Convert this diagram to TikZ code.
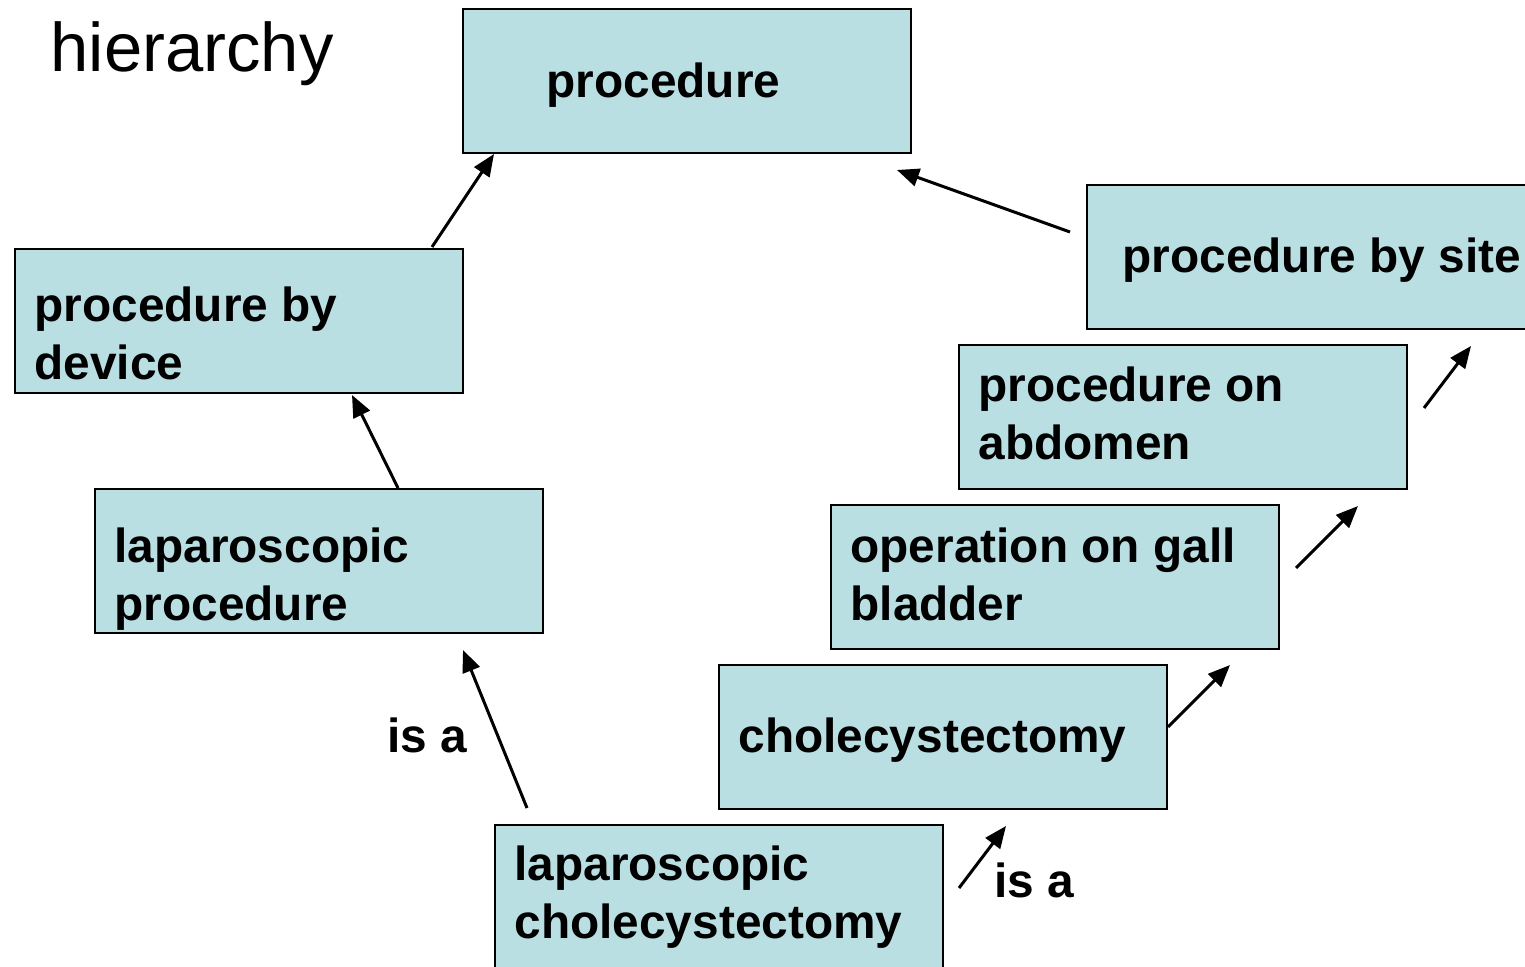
\documentclass[tikz,border=0pt]{standalone}
\usepackage{fontspec}
\setmainfont{Liberation Sans}
\usetikzlibrary{arrows.meta}
\definecolor{boxfill}{RGB}{186,223,227}
\begin{document}
\begin{tikzpicture}[x=0.5pt, y=-0.5pt, >={Triangle[length=11pt,width=9pt]}, line width=1.5pt]
            \tikzstyle{concept} = [rectangle, draw=black, fill=boxfill, line width=1.2pt, anchor=north west,
                                   minimum width=224pt, minimum height=72pt, inner sep=0pt, outer sep=0pt]
            \tikzstyle{word} = [anchor=base west, inner sep=0pt, align=left,
                                font=\fontsize{23.9}{29}\selectfont\bfseries]

            \clip (0, 0) rectangle (1525, 967);

            \node[anchor=base west, inner sep=0pt, font=\fontsize{34.4}{40}\selectfont] (title) at (49, 72) {hierarchy};

            \node[concept] (proc) at (463, 9) {};
            \node[concept] (dev) at (15, 249) {};
            \node[concept] (lap) at (95, 489) {};
            \node[concept] (lapchol) at (495, 825) {};
            \node[concept] (chol) at (719, 665) {};
            \node[concept] (gall) at (831, 505) {};
            \node[concept] (abd) at (959, 345) {};
            \node[concept] (site) at (1087, 185) {};

            \node[word] (proct) at (545, 98) {procedure};
            \node[word] (devt) at (33, 380) {procedure by\\device};
            \node[word] (lapt) at (113, 620) {laparoscopic\\procedure};
            \node[word] (lapcholt) at (513, 938) {laparoscopic\\cholecystectomy};
            \node[word] (cholt) at (737, 752) {cholecystectomy};
            \node[word] (gallt) at (849, 620) {operation on gall\\bladder};
            \node[word] (abdt) at (977, 460) {procedure on\\abdomen};
            \node[word] (sitet) at (1121, 273) {procedure by site};

            \node[word] (isa1) at (386, 752) {is a};
            \node[word] (isa2) at (993, 897) {is a};

            \draw [->] ([shift={(-31,-2)}]dev.north east) -- ([shift={(31,1)}]proc.south west);
            \draw [->] ([shift={(79,-1)}]lap.north) -- ([shift={(-111,2)}]dev.south east);
            \draw [->] ([shift={(32,-17)}]lapchol.north west) -- ([shift={(-80,17)}]lap.south east);
            \draw [->] ([shift={(-17,-25)}]site.west) -- ([shift={(-14,17)}]proc.south east);
            \draw [->] ([shift={(16,63)}]lapchol.north east) -- ([shift={(63,17)}]chol.south);
            \draw [->] ([shift={(1,-10)}]chol.east) -- ([shift={(-49,16)}]gall.south east);
            \draw [->] ([shift={(17,-9)}]gall.east) -- ([shift={(-49,17)}]abd.south east);
            \draw [->] ([shift={(17,-9)}]abd.east) -- ([shift={(-64,17)}]site.south east);
          \end{tikzpicture}
\end{document}
